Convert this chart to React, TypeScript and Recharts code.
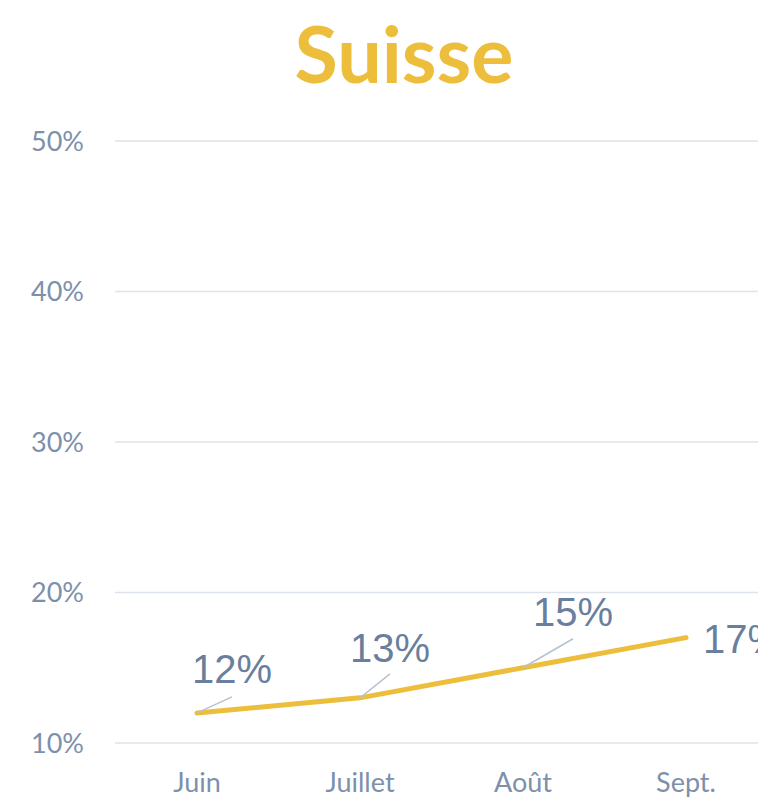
import React from 'react';
import { LineChart, Line, XAxis, YAxis, CartesianGrid, LabelList } from 'recharts';

const months = ['Juin', 'Juillet', 'Août', 'Sept.'];
const rates = [12, 13, 15, 17];
const yTicks = [10, 20, 30, 40, 50];

// where each data label sits relative to its point (text + leader line end)
const labelOffsets = [
  { dx: 35, dy: -30, lx: 35, ly: -16, anchor: 'middle', leader: true },
  { dx: 30, dy: -36, lx: 30, ly: -24, anchor: 'middle', leader: true },
  { dx: 50, dy: -42, lx: 50, ly: -29, anchor: 'middle', leader: true },
  { dx: 17, dy: 15, lx: 0, ly: 0, anchor: 'start', leader: false },
];

const chartData = months.map((m, i) => ({ month: m, rate: rates[i] }));

const GOLD = '#EDBE3B';
const TEXT = '#6a7f9d';
const TICK = '#7d90ab';

const renderLabel = (props: any) => {
  const { x, y, value, index } = props;
  const o = labelOffsets[index];
  if (!o) return null;
  return (
    <g>
      {o.leader && (
        <line x1={x} y1={y} x2={x + o.lx} y2={y + o.ly} stroke="#b7c2d0" strokeWidth={1.5} />
      )}
      <text
        x={x + o.dx}
        y={y + o.dy}
        textAnchor={o.anchor}
        fill={TEXT}
        fontSize={40}
        fontFamily="'Liberation Sans', Arial, sans-serif"
      >
        {`${value}%`}
      </text>
    </g>
  );
};

export default function App() {
  return (
    <div style={{ position: 'absolute', left: 0, top: 0, width: 758, height: 799, overflow: 'hidden', background: '#fff' }}>
      <svg width={758} height={120} style={{ position: 'absolute', left: 0, top: 0 }}>
        <text x={404} y={83} textAnchor="middle" fill={GOLD} fontSize={79} fontWeight={700} fontFamily="Lato, sans-serif">
          Suisse
        </text>
      </svg>
      <div style={{ position: 'absolute', left: 0, top: 0 }}>
        <LineChart width={780} height={799} data={chartData} margin={{ top: 141, right: 12, bottom: 0, left: 0 }}>
          <CartesianGrid vertical={false} stroke="#dde3ea" strokeWidth={1.5} />
          <XAxis
            dataKey="month"
            axisLine={false}
            tickLine={false}
            tickSize={0}
            tickMargin={30}
            height={56}
            padding={{ left: 82, right: 82 }}
            tick={{ fill: TICK, fontSize: 27, fontFamily: 'Lato, sans-serif' }}
            interval={0}
          />
          <YAxis
            domain={[10, 50]}
            ticks={yTicks}
            width={115}
            axisLine={false}
            tickLine={false}
            tickSize={0}
            tickMargin={31}
            tickFormatter={(v: number) => `${v}%`}
            tick={{ fill: TICK, fontSize: 27, fontFamily: 'Lato, sans-serif' }}
          />
          <Line
            type="linear"
            dataKey="rate"
            stroke={GOLD}
            strokeWidth={5}
            strokeLinecap="round"
            dot={false}
            isAnimationActive={false}
          >
            <LabelList dataKey="rate" content={renderLabel} />
          </Line>
        </LineChart>
      </div>
    </div>
  );
}
